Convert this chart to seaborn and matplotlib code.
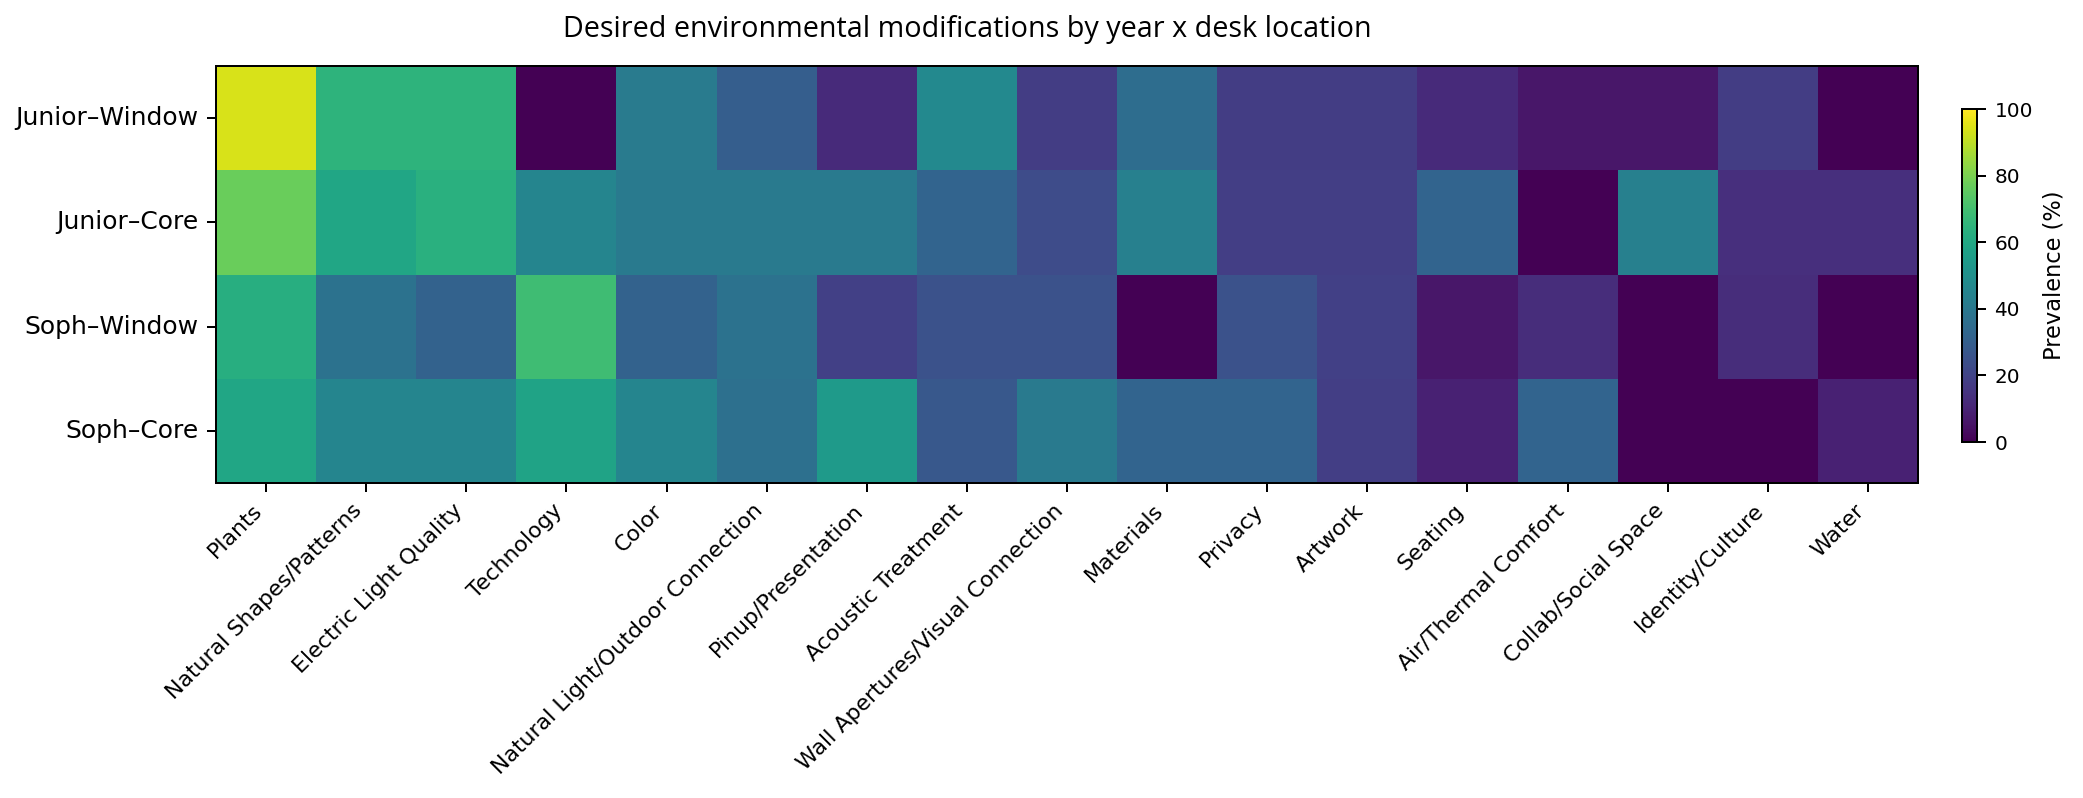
import numpy as np
import pandas as pd
import matplotlib
matplotlib.use("Agg")
import matplotlib.pyplot as plt
import seaborn as sns

# categories (columns) and desk groups (rows)
modifications = ["Plants", "Natural Shapes/Patterns", "Electric Light Quality", "Technology",
                 "Color", "Natural Light/Outdoor Connection", "Pinup/Presentation",
                 "Acoustic Treatment", "Wall Apertures/Visual Connection", "Materials",
                 "Privacy", "Artwork", "Seating", "Air/Thermal Comfort",
                 "Collab/Social Space", "Identity/Culture", "Water"]
groups = ["Junior\u2013Window", "Junior\u2013Core", "Soph\u2013Window", "Soph\u2013Core"]

# prevalence (%)
junior_window = [94.1, 64.7, 64.7, 0.0, 41.2, 29.4, 11.8, 47.1, 17.6, 35.3, 17.6, 17.6, 11.8, 5.9, 5.9, 17.6, 0.0]
junior_core = [77.3, 59.1, 63.6, 45.5, 40.9, 40.9, 40.9, 31.8, 22.7, 43.0, 18.2, 18.2, 31.8, 0.0, 43.0, 13.6, 13.6]
soph_window = [62.5, 37.5, 31.2, 68.8, 31.2, 37.5, 18.8, 25.0, 25.0, 0.0, 25.0, 18.8, 6.2, 12.5, 0.0, 12.5, 0.0]
soph_core = [59.1, 45.5, 45.5, 58.0, 45.5, 36.4, 54.0, 27.3, 40.9, 31.8, 31.8, 18.2, 9.1, 31.8, 0.0, 0.0, 9.1]

df = pd.DataFrame([junior_window, junior_core, soph_window, soph_core],
                  index=groups, columns=modifications)

W, H, DPI = 2083, 798, 180
fig = plt.figure(figsize=(W / DPI, H / DPI), dpi=DPI)
ax = fig.add_axes([216 / W, 1 - 483 / H, (1918 - 216) / W, (483 - 66) / H])
cax = fig.add_axes([1962 / W, 1 - 442 / H, 15 / W, 333 / H])

sns.heatmap(df, cmap="viridis", vmin=0, vmax=100, ax=ax, cbar_ax=cax,
            cbar_kws={"label": "Prevalence (%)", "ticks": [0, 20, 40, 60, 80, 100]})

for s in ax.spines.values():
    s.set_visible(True)
    s.set_color("black")
    s.set_linewidth(0.8)
ax.tick_params(axis="both", length=3.5, width=0.8)
ax.set_xticklabels(modifications, rotation=45, ha="right", fontsize=8.8)
ax.set_yticklabels(groups, rotation=0, fontsize=10)
ax.set_xlabel("")
ax.set_ylabel("")

cb = ax.collections[0].colorbar
cb.outline.set_visible(True)
cb.outline.set_linewidth(0.8)
cb.outline.set_edgecolor("black")
cax.tick_params(labelsize=8, length=3.5, width=0.8)
cb.set_label("Prevalence (%)", fontsize=9)

fig.text(967 / W, 1 - 30 / H, "Desired environmental modifications by year x desk location",
         ha="center", va="center", fontsize=11.5, family=["Open Sans", "DejaVu Sans"])

fig.savefig("out.png", dpi=DPI)
